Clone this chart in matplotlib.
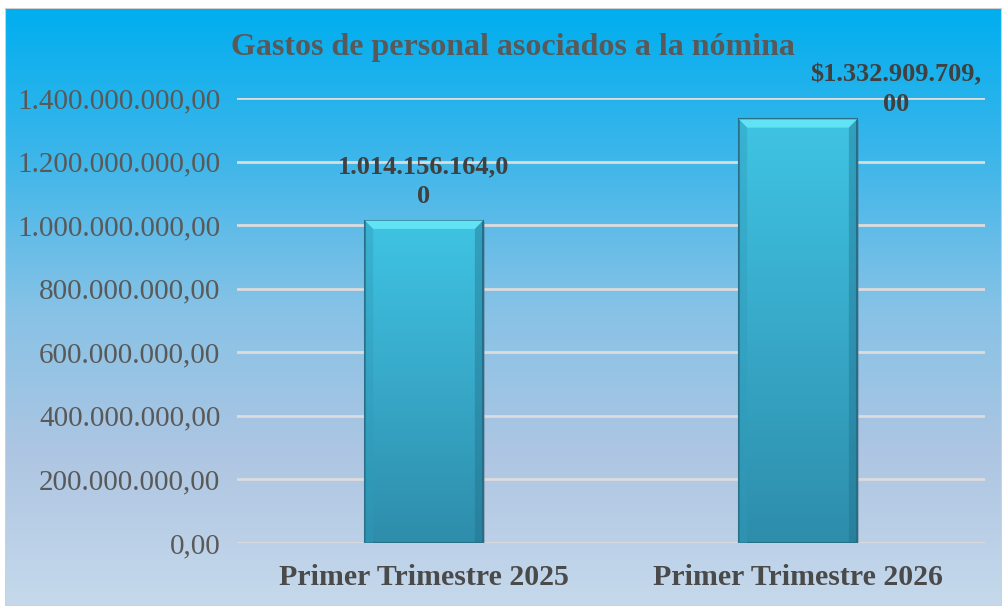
import matplotlib
matplotlib.use("Agg")
import matplotlib.pyplot as plt
import numpy as np
from matplotlib.patches import Rectangle, Polygon
from matplotlib.colors import LinearSegmentedColormap
from matplotlib.ticker import FuncFormatter

categories = ["Primer Trimestre 2025", "Primer Trimestre 2026"]
values = [1014156164.00, 1332909709.00]
value_labels = ["1.014.156.164,0\n0", "$1.332.909.709,\n00"]
title = "Gastos de personal asociados a la nómina"
yticks = [0, 200e6, 400e6, 600e6, 800e6, 1000e6, 1200e6, 1400e6]

plt.rcParams['font.family'] = ['Liberation Serif', 'DejaVu Serif']

W, H = 1002, 606
fig = plt.figure(figsize=(W / 100, H / 100), dpi=100)
fig.patch.set_facecolor("white")

# background gradient frame
bg = fig.add_axes([5 / W, 0, 1 - 5 / W, 1 - 8 / H])
bg.set_axis_off()
bg_cmap = LinearSegmentedColormap.from_list(
    "bg", ["#00AEEF", "#3DB6EA", "#86C2E6", "#AEC6E2", "#C6D9EC"])
grad = np.linspace(0, 1, 256).reshape(-1, 1)
bg.imshow(grad, aspect="auto", cmap=bg_cmap, extent=[0, 1, 0, 1], origin="upper")
bg.add_patch(Rectangle((0, 0), 1, 1, transform=bg.transAxes, fill=False,
                       edgecolor="#D0D0D0", lw=1.5))
bg.set_xlim(0, 1)
bg.set_ylim(0, 1)

left, right = 237 / W, 985 / W
bottom = 1 - 543 / H
top = 1 - 98 / H
ax = fig.add_axes([left, bottom, right - left, top - bottom])
ax.patch.set_alpha(0)
x = np.arange(len(categories))
ax.set_xlim(-0.5, len(categories) - 0.5)
ax.set_ylim(0, 1.4e9)
for s in ax.spines.values():
    s.set_visible(False)
ax.set_yticks(yticks)
ax.yaxis.set_major_formatter(FuncFormatter(
    lambda v, p: f"{v:,.2f}".replace(",", "X").replace(".", ",").replace("X", ".")))
ax.tick_params(axis="y", length=0, pad=12, labelsize=21, labelcolor="#595959")
ax.set_xticks(x)
ax.set_xticklabels(categories, fontsize=21.5, fontweight="bold", color="#4A4A4A")
ax.tick_params(axis="x", length=0, pad=15)
ax.grid(axis="y", color="#DCDCDC", lw=2)
ax.set_axisbelow(True)

bw = 0.316
bar_cmap = LinearSegmentedColormap.from_list("bar", ["#3FC4E3", "#38A9C9", "#2E8DAB"])
bars = ax.bar(x, values, width=bw, color="none", zorder=3)
for xi, v, b in zip(x, values, bars):
    ax.add_patch(Rectangle((xi - bw / 2 + 0.005, -4e6), bw, v, facecolor="#5A6E86",
                           alpha=0.35, zorder=2, lw=0))
    im = ax.imshow(np.linspace(0, 1, 256).reshape(-1, 1), cmap=bar_cmap, aspect="auto",
                   extent=[xi - bw / 2, xi + bw / 2, 0, v], origin="upper", zorder=3)
    im.set_clip_path(b)
    ax.add_patch(Rectangle((xi - bw / 2, 0), bw, v, fill=False, edgecolor="#2A6F88",
                           lw=1.5, zorder=4))
    dx = 0.022
    dy = 26e6
    ax.add_patch(Polygon([[xi - bw / 2, v], [xi + bw / 2, v],
                          [xi + bw / 2 - dx, v - dy], [xi - bw / 2 + dx, v - dy]],
                         closed=True, facecolor="#62E2F5", edgecolor="none", zorder=5))
    ax.add_patch(Polygon([[xi - bw / 2, v], [xi - bw / 2 + dx, v - dy],
                          [xi - bw / 2 + dx, 0], [xi - bw / 2, 0]],
                         closed=True, facecolor="#2F9BBA", alpha=0.4, edgecolor="none", zorder=5))
    ax.add_patch(Polygon([[xi + bw / 2, v], [xi + bw / 2 - dx, v - dy],
                          [xi + bw / 2 - dx, 0], [xi + bw / 2, 0]],
                         closed=True, facecolor="#1F6E88", alpha=0.4, edgecolor="none", zorder=5))

label_offsets = [(0, 28), (70.5, 21.5)]
for xi, v, lab, off in zip(x, values, value_labels, label_offsets):
    ax.annotate(lab, xy=(xi, v), xytext=off, textcoords="offset points",
                ha="center", va="center", fontsize=19, fontweight="bold",
                color="#404040", linespacing=1.4, zorder=6, annotation_clip=False)

fig.text(513 / W, 1 - 47 / H, title, ha="center", va="center", fontsize=23,
         fontweight="bold", color="#595959")

fig.savefig("out.png", dpi=100)
